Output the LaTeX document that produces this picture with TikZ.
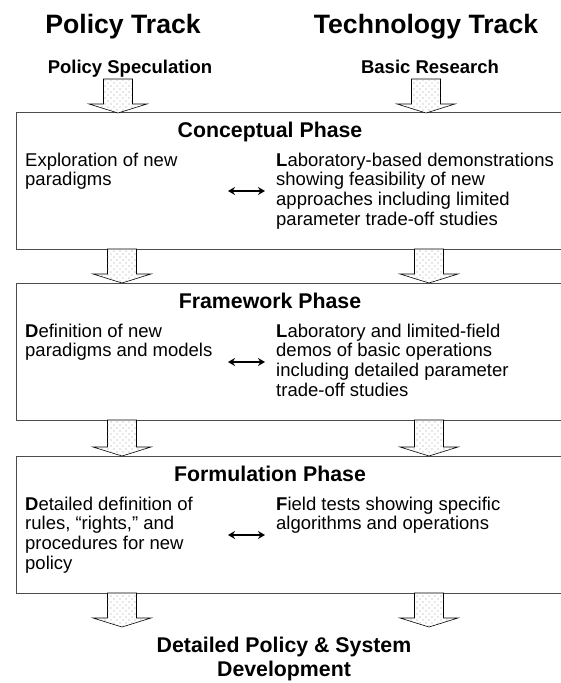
\documentclass[tikz,border=0pt]{standalone}
\usepackage{fontspec}
\setmainfont{Liberation Sans}
\usetikzlibrary{arrows.meta,patterns.meta,calc}
\newcommand\blockarr[4]{% name, center x, top y, tip y
  \coordinate (#1top) at (#2,#3);
  \coordinate (#1tip) at (#2,#4);
  \path[blk] ($(#1top)+(-14.5,0)$) -- ($(#1top)+(14.5,0)$) -- ($(#1tip)+(14.5,-9)$)
    -- ($(#1tip)+(29,-9)$) -- (#1tip) -- ($(#1tip)+(-29,-9)$) -- ($(#1tip)+(-14.5,-9)$) -- cycle;
}
\newcommand\leftlines[1]{\vtop{\halign{##\hfil\cr #1\cr}}}
\newcommand\centerlines[1]{\vtop{\halign{\hfil##\hfil\cr #1\cr}}}
\begin{document}
\begin{tikzpicture}[x=1pt,y=-1pt,
  track/.style={anchor=base, inner sep=0pt, font=\fontsize{26.6}{30}\selectfont\bfseries},
  sub/.style={anchor=base, inner sep=0pt, font=\fontsize{18.5}{20}\selectfont\bfseries},
  phase/.style={anchor=base, inner sep=0pt, font=\fontsize{21.3}{24}\selectfont\bfseries},
  txt/.style={anchor=base west, inner sep=0pt, font=\fontsize{18.5}{19.7}\selectfont},
  final/.style={anchor=base, inner sep=0pt, font=\fontsize{21.3}{24.5}\selectfont\bfseries},
  phasebox/.style={draw=black!70, line width=1pt, rectangle, minimum width=570pt, minimum height=137pt, anchor=north west, inner sep=0pt},
  blk/.style={draw=black, line width=0.6pt, fill=white,
    postaction={pattern={Dots[distance=6pt,radius=0.55pt]}, pattern color=black!40},
    postaction={pattern={Dots[distance=6pt,radius=0.55pt,xshift=3pt,yshift=3pt]}, pattern color=black!40}},
  dbl/.style={{Stealth[length=7pt,width=8pt]}-{Stealth[length=7pt,width=8pt]}, line width=2pt}
]
\useasboundingbox (0,0) rectangle (561,683);
\clip (0,0) rectangle (561,683);

% headings
\node[track] (pt) at (123,33) {Policy Track};
\node[track] (tt) at (426,33) {Technology Track};
\node[sub] (ps) at (130,73) {Policy Speculation};
\node[sub] (br) at (430,73) {Basic Research};

% phase boxes
\node[phasebox] (b1) at (16,112) {};
\node[phasebox] (b2) at (16,283) {};
\node[phasebox] (b3) at (16,456) {};

% block arrows
\blockarr{ta}{118}{79}{113}
\blockarr{tb}{426}{79}{113}
\blockarr{ma}{122}{249}{283}
\blockarr{mb}{429}{249}{283}
\blockarr{na}{122}{420}{456}
\blockarr{nb}{429}{420}{456}
\blockarr{fa}{122}{593}{627}
\blockarr{fb}{429}{593}{627}

% Conceptual phase
\node[phase] (t1) at (270,137) {Conceptual Phase};
\node[txt] (l1) at (25,166) {\leftlines{Exploration of new\cr paradigms}};
\node[txt] (r1) at (276,166) {\leftlines{\textbf{L}aboratory-based demonstrations\cr showing feasibility of new\cr approaches including limited\cr parameter trade-off studies}};
\coordinate (a1l) at (228,191);
\coordinate (a1r) at (265,191);
\draw[dbl] (a1l) -- (a1r);

% Framework phase
\node[phase] (t2) at (270,308) {Framework Phase};
\node[txt] (l2) at (25,337) {\leftlines{\textbf{D}efinition of new\cr paradigms and models}};
\node[txt] (r2) at (276,337) {\leftlines{\textbf{L}aboratory and limited-field\cr demos of basic operations\cr including detailed parameter\cr trade-off studies}};
\coordinate (a2l) at (228,362);
\coordinate (a2r) at (265,362);
\draw[dbl] (a2l) -- (a2r);

% Formulation phase
\node[phase] (t3) at (270,481) {Formulation Phase};
\node[txt] (l3) at (25,510) {\leftlines{\textbf{D}etailed definition of\cr rules, “rights,” and\cr procedures for new\cr policy}};
\node[txt] (r3) at (276,510) {\leftlines{\textbf{F}ield tests showing specific\cr algorithms and operations}};
\coordinate (a3l) at (228,535);
\coordinate (a3r) at (265,535);
\draw[dbl] (a3l) -- (a3r);

% final
\node[final] (fin) at (284,652) {\centerlines{Detailed Policy \& System\cr Development}};
\end{tikzpicture}
\end{document}
